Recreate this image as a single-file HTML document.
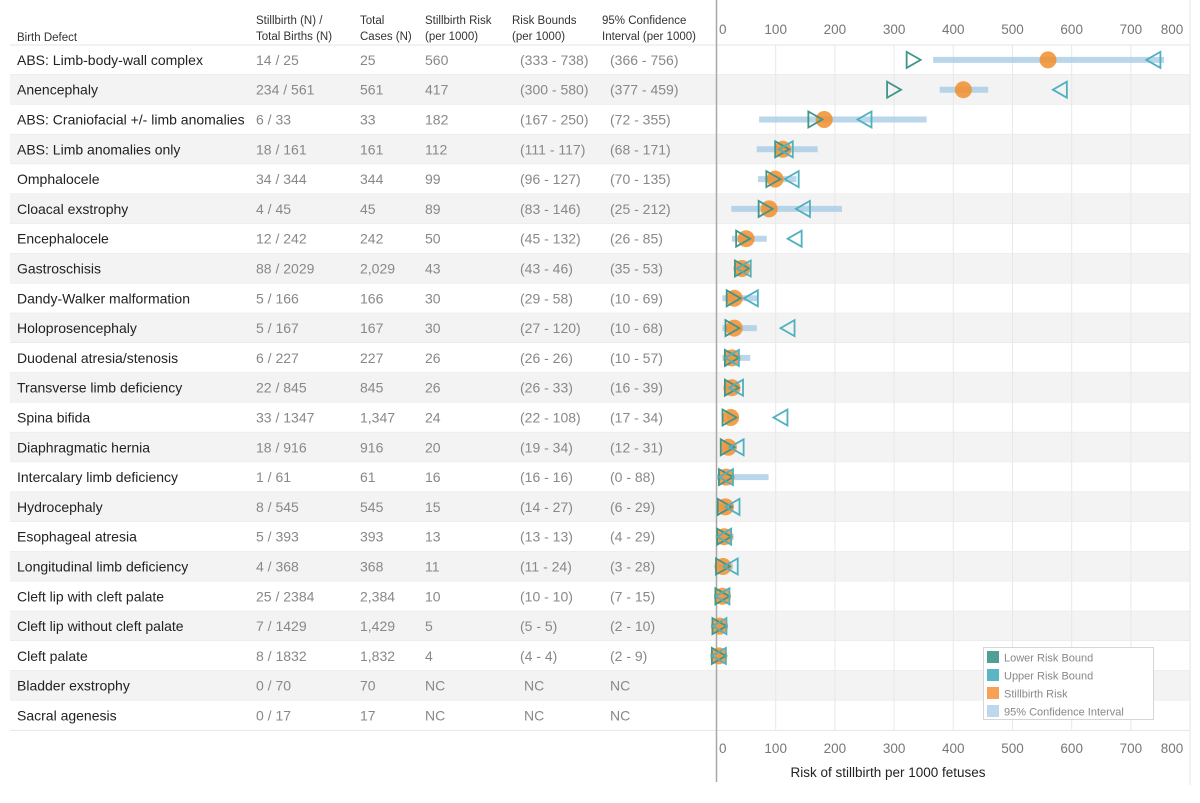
<!DOCTYPE html>
<html><head><meta charset="utf-8">
<style>
body{margin:0;background:#fff;font-family:"Liberation Sans",sans-serif;}
svg text{font-family:"Liberation Sans",sans-serif;}
</style></head>
<body>
<svg id="chart" width="1200" height="798" viewBox="0 0 1200 798" xmlns="http://www.w3.org/2000/svg"></svg>
<script>
const defects=["ABS: Limb-body-wall complex","Anencephaly","ABS: Craniofacial +/- limb anomalies","ABS: Limb anomalies only","Omphalocele","Cloacal exstrophy","Encephalocele","Gastroschisis","Dandy-Walker malformation","Holoprosencephaly","Duodenal atresia/stenosis","Transverse limb deficiency","Spina bifida","Diaphragmatic hernia","Intercalary limb deficiency","Hydrocephaly","Esophageal atresia","Longitudinal limb deficiency","Cleft lip with cleft palate","Cleft lip without cleft palate","Cleft palate","Bladder exstrophy","Sacral agenesis"];
const ratioText=["14 / 25","234 / 561","6 / 33","18 / 161","34 / 344","4 / 45","12 / 242","88 / 2029","5 / 166","5 / 167","6 / 227","22 / 845","33 / 1347","18 / 916","1 / 61","8 / 545","5 / 393","4 / 368","25 / 2384","7 / 1429","8 / 1832","0 / 70","0 / 17"];
const totalText=["25","561","33","161","344","45","242","2,029","166","167","227","845","1,347","916","61","545","393","368","2,384","1,429","1,832","70","17"];
const risk=[560,417,182,112,99,89,50,43,30,30,26,26,24,20,16,15,13,11,10,5,4,null,null];
const lowerBound=[333,300,167,111,96,83,45,43,29,27,26,26,22,19,16,14,13,11,10,5,4,null,null];
const upperBound=[738,580,250,117,127,146,132,46,58,120,26,33,108,34,16,27,13,24,10,5,4,null,null];
const ciLow=[366,377,72,68,70,25,26,35,10,10,10,16,17,12,0,6,4,3,7,2,2,null,null];
const ciHigh=[756,459,355,171,135,212,85,53,69,68,57,39,34,31,88,29,29,28,15,10,9,null,null];
const ticks=[0,100,200,300,400,500,600,700,800];

const svg=document.getElementById('chart');
const NS='http://www.w3.org/2000/svg';
function el(t,a,txt){const e=document.createElementNS(NS,t);for(const k in a)e.setAttribute(k,a[k]);if(txt!==undefined)e.textContent=txt;svg.appendChild(e);return e;}
const x=v=>716.5+v*0.592;
const top0=45,rh=29.8;
const y=i=>top0+rh*i+rh/2;
const rowL=10,rowR=1190;

for(let i=0;i<defects.length;i++){
  const r=el('rect',{x:rowL,y:top0+rh*i,width:rowR-rowL,height:rh,fill:i%2?'#f3f3f3':'#ffffff'});
  
  
  const l=el('line',{x1:rowL,x2:rowR,y1:top0+rh*(i+1),y2:top0+rh*(i+1),stroke:'#e6e6e6','stroke-width':1});
  
  
}
el('line',{x1:rowL,x2:rowR,y1:top0,y2:top0,stroke:'#e6e6e6'});
ticks.forEach(t=>{
  if(t===0)return;
  const g=el('line',{x1:x(t),x2:x(t),y1:top0,y2:top0+rh*defects.length,stroke:'#e8e8e8','stroke-width':1});
  
  
});
el('line',{x1:rowR,x2:rowR,y1:0,y2:785,stroke:'#e6e6e6'});
const ax=el('line',{x1:716.5,x2:716.5,y1:0,y2:782,stroke:'#a8a8a8','stroke-width':1.5});



const hdr=[[17,38,"Birth Defect",null],[256,24,"Stillbirth (N) /","Total Births (N)"],[360,24,"Total","Cases (N)"],[425,24,"Stillbirth Risk","(per 1000)"],[512,24,"Risk Bounds","(per 1000)"],[602,24,"95% Confidence","Interval (per 1000)"]];
hdr.forEach((h,k)=>{
  const t=el('text',{x:h[0],y:h[3]?h[1]:h[1]+3,'font-size':11.5,fill:'#333'},h[2]);
  
  
  if(h[3]){const t2=el('text',{x:h[0],y:h[1]+16,'font-size':11.5,fill:'#333'},h[3]);}
});
ticks.forEach(t=>{
  const px=t===0?719:Math.min(x(t),1172);
  const tx=el('text',{x:px,y:34,'font-size':13.5,fill:'#777','text-anchor':t===0?'start':'middle'},String(t));
  
  
  const bx=el('text',{x:px,y:753,'font-size':13.5,fill:'#777','text-anchor':t===0?'start':'middle'},String(t));
  
  
});
const at=el('text',{x:888,y:777,'font-size':13.5,fill:'#222','text-anchor':'middle'},'Risk of stillbirth per 1000 fetuses');



for(let i=0;i<defects.length;i++){
  const yy=y(i)+5;
  const c1=el('text',{x:17,y:yy,'font-size':14,fill:'#222'},defects[i]);
  
  
  const c2=el('text',{x:256,y:yy,'font-size':14,fill:'#888'},ratioText[i]);
  
  
  const c3=el('text',{x:360,y:yy,'font-size':14,fill:'#888'},totalText[i]);
  
  
  const c4=el('text',{x:425,y:yy,'font-size':14,fill:'#888'},risk[i]===null?'NC':String(risk[i]));
  
  
  const c5=el('text',{x:risk[i]===null?524:520,y:yy,'font-size':14,fill:'#888'},risk[i]===null?'NC':'('+lowerBound[i]+' - '+upperBound[i]+')');
  
  
  const c6=el('text',{x:610,y:yy,'font-size':14,fill:'#888'},risk[i]===null?'NC':'('+ciLow[i]+' - '+ciHigh[i]+')');
  
  
  if(risk[i]===null)continue;
  const cy=y(i);
  const ci=el('line',{x1:x(ciLow[i]),x2:x(ciHigh[i]),y1:cy,y2:cy,stroke:'#a9cce6','stroke-width':6,opacity:0.8});
  
  
  const dot=el('circle',{cx:x(risk[i]),cy:cy,r:8.5,fill:'#f28e2b',opacity:0.85});
  
  
  const lx=x(lowerBound[i]);
  const lt=el('polygon',{points:(lx-7)+','+(cy-8)+' '+(lx+7)+','+cy+' '+(lx-7)+','+(cy+8),fill:'none',stroke:'#3f9689','stroke-width':1.8});
  
  
  const ux=x(upperBound[i]);
  const ut=el('polygon',{points:(ux+7)+','+(cy-8)+' '+(ux-7)+','+cy+' '+(ux+7)+','+(cy+8),fill:'none',stroke:'#4fb0c0','stroke-width':1.8});
  
  
}

const lg=el('rect',{x:983.5,y:647.5,width:170,height:72,fill:'#fff',stroke:'#d6d6d6'});


const legItems=[['Lower Risk Bound','#4f9f97'],['Upper Risk Bound','#5ab5c5'],['Stillbirth Risk','#f7a056'],['95% Confidence Interval','#bcd7ee']];
legItems.forEach((it,k)=>{
  const yy=651+k*18;
  const sw=el('rect',{x:987,y:yy,width:12,height:12,fill:it[1]});
  
  
  const tx=el('text',{x:1004,y:yy+10.5,'font-size':11,fill:'#888'},it[0]);
  
  
});
</script>
</body></html>
